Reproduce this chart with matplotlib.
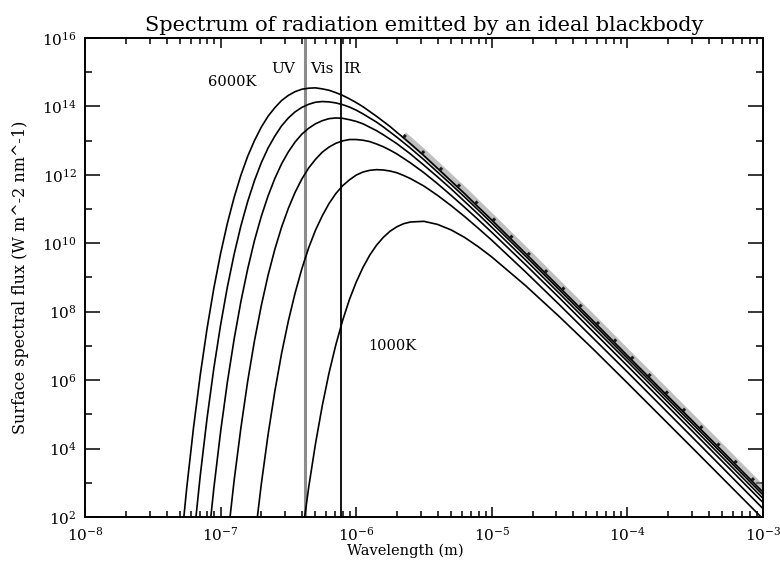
import matplotlib
matplotlib.use('Agg')
import matplotlib.pyplot as plt
import matplotlib.ticker as mtick
import numpy as np

plt.rcParams['font.family'] = 'DejaVu Serif'
plt.rcParams['mathtext.fontset'] = 'dejavuserif'

nan = np.nan

# wavelength grid, log10 of metres
log_wavelength = [-7.3, -7.25, -7.2, -7.15, -7.1, -7.05, -7.0, -6.95, -6.9, -6.85,
                  -6.8, -6.75, -6.7, -6.65, -6.6, -6.55, -6.5, -6.45, -6.4, -6.35,
                  -6.3, -6.25, -6.2, -6.15, -6.1, -6.05, -6.0, -5.95, -5.9, -5.85,
                  -5.8, -5.75, -5.7, -5.65, -5.6,
                  -5.5, -5.4, -5.3, -5.2, -5.1, -5.0, -4.75, -4.5, -4.25, -4.0, -3.5, -3.0]

# log10 of surface spectral flux for each temperature
flux_6000 = [0.83, 2.84, 4.60, 6.15, 7.50, 8.68, 9.70, 10.58, 11.34, 11.99,
             12.54, 13.00, 13.39, 13.71, 13.96, 14.17, 14.32, 14.43, 14.50, 14.53,
             14.54, 14.51, 14.47, 14.40, 14.32, 14.22, 14.11, 13.99, 13.85, 13.71,
             13.56, 13.41, 13.24, 13.08, 12.91,
             12.56, 12.19, 11.82, 11.45, 11.06, 10.68, 9.70, 8.71, 7.72, 6.72, 4.73, 2.73]
flux_5000 = [nan, -0.86, 1.30, 3.21, 4.88, 6.34, 7.61, 8.72, 9.68, 10.51,
             11.22, 11.83, 12.35, 12.78, 13.13, 13.43, 13.66, 13.84, 13.97, 14.06,
             14.12, 14.14, 14.13, 14.10, 14.05, 13.98, 13.89, 13.78, 13.66, 13.54,
             13.40, 13.25, 13.10, 12.94, 12.78,
             12.44, 12.08, 11.72, 11.35, 10.97, 10.59, 9.62, 8.63, 7.64, 6.64, 4.65, 2.65]
flux_4000 = [nan, nan, nan, -1.21, 0.94, 2.83, 4.49, 5.94, 7.20, 8.30,
             9.25, 10.08, 10.78, 11.38, 11.89, 12.32, 12.67, 12.96, 13.19, 13.36,
             13.49, 13.58, 13.64, 13.66, 13.65, 13.61, 13.56, 13.49, 13.39, 13.29,
             13.17, 13.04, 12.91, 12.76, 12.61,
             12.28, 11.94, 11.59, 11.22, 10.85, 10.47, 9.51, 8.53, 7.54, 6.55, 4.55, 2.55]
flux_3000 = [nan, nan, nan, nan, nan, nan, -0.72, 1.30, 3.07, 4.61,
             5.97, 7.15, 8.17, 9.06, 9.82, 10.47, 11.02, 11.49, 11.88, 12.20,
             12.45, 12.66, 12.81, 12.92, 12.99, 13.03, 13.03, 13.01, 12.97, 12.90,
             12.82, 12.72, 12.61, 12.48, 12.35,
             12.06, 11.74, 11.40, 11.05, 10.69, 10.32, 9.37, 8.40, 7.41, 6.42, 4.43, 2.43]
flux_2000 = [nan, nan, nan, nan, nan, nan, nan, nan, nan, nan,
             -0.60, 1.29, 2.95, 4.40, 5.67, 6.78, 7.73, 8.55, 9.26, 9.87,
             10.38, 10.80, 11.16, 11.45, 11.68, 11.85, 11.99, 12.08, 12.13, 12.15,
             12.14, 12.11, 12.06, 11.98, 11.89,
             11.67, 11.40, 11.10, 10.78, 10.44, 10.09, 9.16, 8.20, 7.22, 6.24, 4.25, 2.25]
flux_1000 = [nan, nan, nan, nan, nan, nan, nan, nan, nan, nan,
             nan, nan, nan, nan, nan, nan, nan, nan, 1.41, 2.87,
             4.14, 5.25, 6.21, 7.03, 7.74, 8.35, 8.86, 9.29, 9.65, 9.94,
             10.17, 10.35, 10.48, 10.57, 10.62,
             10.64, 10.55, 10.39, 10.17, 9.90, 9.60, 8.76, 7.85, 6.90, 5.92, 3.94, 1.95]

# band edges (m)
uv_edge = 4.2e-7
ir_edge = 7.7e-7

fig = plt.figure(figsize=(7.8, 5.63), dpi=100)
ax = fig.add_axes([0.109, 0.0817, 0.869, 0.851])

wl = 10.0 ** np.array(log_wavelength)
for flux in [flux_6000, flux_5000, flux_4000, flux_3000, flux_2000, flux_1000]:
    ax.plot(wl, 10.0 ** np.array(flux), color='black', lw=1.2, zorder=3)

# shaded, hatched trace along the hottest curve at long wavelengths
tail = wl >= 10 ** -5.65
tail_flux = 10.0 ** np.array(flux_6000)[tail] * 1.2
ax.plot(wl[tail], tail_flux, color='0.55', lw=5, alpha=0.55, zorder=2,
        solid_capstyle='butt')
ax.plot(wl[tail], tail_flux, color='0.1', lw=2.2, dashes=(1.0, 7.0), zorder=4)

ax.axvline(uv_edge, color='0.55', lw=2.2, zorder=2)
ax.axvline(ir_edge, color='black', lw=1.3, zorder=2)

ax.set_xscale('log')
ax.set_yscale('log')
ax.set_xlim(1e-8, 1e-3)
ax.set_ylim(1e2, 1e16)

ax.xaxis.set_major_locator(mtick.LogLocator(base=10, numticks=20))
ax.xaxis.set_minor_locator(mtick.LogLocator(base=10, subs=np.arange(2, 10), numticks=20))
ax.yaxis.set_major_locator(mtick.FixedLocator([10.0 ** k for k in range(2, 17, 2)]))
ax.yaxis.set_minor_locator(mtick.FixedLocator([10.0 ** k for k in range(3, 16, 2)]))
ax.yaxis.set_major_formatter(mtick.LogFormatterMathtext())
ax.yaxis.set_minor_formatter(mtick.NullFormatter())

ax.tick_params(which='both', direction='in', top=True, right=True, width=1.1,
               labelsize=11, pad=6)
ax.tick_params(axis='x', which='major', length=7)
ax.tick_params(axis='x', which='minor', length=4)
ax.tick_params(axis='y', which='major', length=11)
ax.tick_params(axis='y', which='minor', length=5)
for s in ax.spines.values():
    s.set_linewidth(1.4)

ax.text(2.88e-7, 1.2e15, 'UV', ha='center', va='center', fontsize=11)
ax.text(5.6e-7, 1.2e15, 'Vis', ha='center', va='center', fontsize=11)
ax.text(8.0e-7, 1.2e15, 'IR', ha='left', va='center', fontsize=11)
ax.text(1.21e-7, 5.0e14, '6000K', ha='center', va='center', fontsize=10.5)
ax.text(1.84e-6, 1.0e7, '1000K', ha='center', va='center', fontsize=10.5)

ax.set_title('Spectrum of radiation emitted by an ideal blackbody',
             fontsize=15, pad=5)
ax.set_xlabel('Wavelength (m)', fontsize=10.5)
ax.set_ylabel('Surface spectral flux (W m^-2 nm^-1)', fontsize=11.5)
ax.xaxis.set_label_coords(0.473, -0.055)
ax.yaxis.set_label_coords(-0.083, 0.5)

fig.savefig('out.png', dpi=100)
